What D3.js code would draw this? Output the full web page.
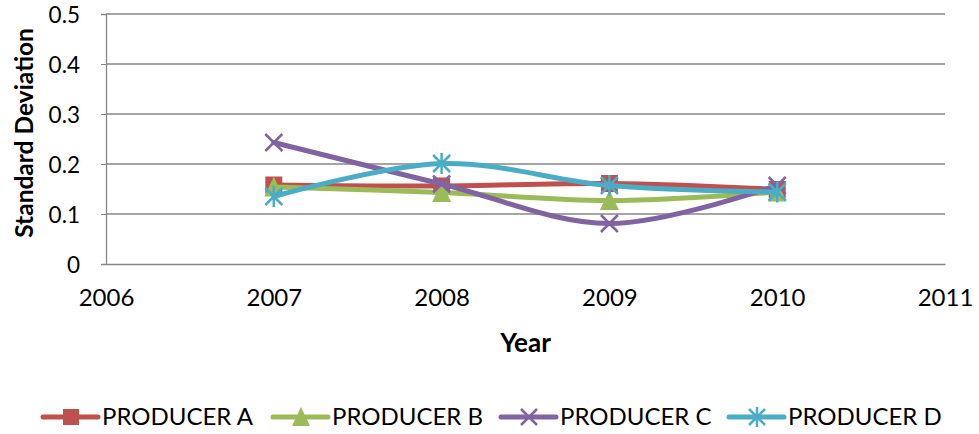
<!DOCTYPE html>
<html>
<head>
<meta charset="utf-8">
<script src="https://cdn.jsdelivr.net/npm/d3@7"></script>
<style>
  body { margin: 0; background: #fff; }
  text { font-family: Lato, "Open Sans", sans-serif; fill: #000; }
</style>
</head>
<body>
<svg width="979" height="434"></svg>
<script>
// data
var years = [2007, 2008, 2009, 2010];
var producerA = [0.158, 0.156, 0.161, 0.149];
var producerB = [0.154, 0.143, 0.127, 0.144];
var producerC = [0.243, 0.160, 0.081, 0.157];
var producerD = [0.135, 0.201, 0.157, 0.144];
var seriesNames = ["PRODUCER A", "PRODUCER B", "PRODUCER C", "PRODUCER D"];
var yTicks = [0, 0.1, 0.2, 0.3, 0.4, 0.5];
var xTicks = [2006, 2007, 2008, 2009, 2010, 2011];

var colors = ["#C0504D", "#9BBB59", "#8064A2", "#4BACC6"];
var shapes = ["square", "triangle", "x", "star"];

var series = [producerA, producerB, producerC, producerD].map(function(vals, i) {
  return {
    name: seriesNames[i], color: colors[i], shape: shapes[i],
    values: vals.map(function(v, j) { return { year: years[j], value: v }; })
  };
});

var svg = d3.select("svg"),
    margin = {top: 14, right: 34, bottom: 170, left: 106},
    width = +svg.attr("width") - margin.left - margin.right,
    height = +svg.attr("height") - margin.top - margin.bottom,
    chart = svg.append("g").attr("transform", "translate(" + margin.left + "," + margin.top + ")");

var x = d3.scaleLinear().domain([2006, 2011]).range([0, width]);
var y = d3.scaleLinear().domain([0, 0.5]).range([height, 0]);

// horizontal gridlines
chart.selectAll(".grid")
  .data(yTicks.slice(1))
  .enter().append("line")
  .attr("x1", 0).attr("x2", width)
  .attr("y1", function(d) { return y(d); })
  .attr("y2", function(d) { return y(d); })
  .attr("stroke", "#868686").attr("stroke-width", 1.3);

// y axis
var yAxis = chart.append("g")
  .call(d3.axisLeft(y).tickValues(yTicks).tickSize(5).tickPadding(21)
    .tickFormat(function(d) { return d === 0 ? "0" : d3.format(".1f")(d); }));
yAxis.select(".domain").attr("stroke", "#868686").attr("stroke-width", 1.3);
yAxis.selectAll(".tick line").attr("stroke", "#868686");
yAxis.selectAll("text").style("font-size", "22.5px").attr("dy", "8.5px").attr("fill", "#000");

// x axis
var xAxis = chart.append("g")
  .attr("transform", "translate(0," + height + ")")
  .call(d3.axisBottom(x).tickValues(xTicks).tickSize(0).tickPadding(25).tickFormat(d3.format("d")));
xAxis.select(".domain").attr("stroke", "#868686").attr("stroke-width", 1.3);
xAxis.selectAll("text").style("font-size", "24px").attr("fill", "#000");

// axis titles
svg.append("text")
  .attr("transform", "translate(33,133) rotate(-90)")
  .attr("text-anchor", "middle")
  .style("font-size", "24.5px").style("font-weight", "bold")
  .text("Standard Deviation");

svg.append("text")
  .attr("x", margin.left + width / 2).attr("y", 352)
  .attr("text-anchor", "middle")
  .style("font-size", "26px").style("font-weight", "bold")
  .text("Year");

var line = d3.line()
  .x(function(d) { return x(d.year); })
  .y(function(d) { return y(d.value); })
  .curve(d3.curveCatmullRom.alpha(0.5));

function drawMarker(g, shape, color, size) {
  var h = size / 2;
  if (shape === "square") {
    g.append("rect").attr("x", -h).attr("y", -h).attr("width", size).attr("height", size).attr("fill", color);
  } else if (shape === "triangle") {
    g.append("path").attr("d", "M0," + (-h - 2) + "L" + (h + 1) + "," + (h + 1) + "L" + (-h - 1) + "," + (h + 1) + "Z").attr("fill", color);
  } else if (shape === "x") {
    g.append("path").attr("d", "M" + -h + "," + -h + "L" + h + "," + h + "M" + h + "," + -h + "L" + -h + "," + h)
      .attr("stroke", color).attr("stroke-width", 2.5);
  } else {
    g.append("path").attr("d", "M" + -h + "," + -h + "L" + h + "," + h + "M" + h + "," + -h + "L" + -h + "," + h + "M0," + (-h - 2) + "L0," + (h + 2))
      .attr("stroke", color).attr("stroke-width", 2.5);
  }
}

var seriesG = chart.selectAll(".series")
  .data(series)
  .enter().append("g").attr("class", "series");

seriesG.append("path")
  .attr("d", function(d) { return line(d.values); })
  .attr("fill", "none")
  .attr("stroke", function(d) { return d.color; })
  .attr("stroke-width", 5)
  .attr("stroke-linecap", "round");

seriesG.each(function(s) {
  d3.select(this).selectAll(".pt")
    .data(s.values)
    .enter().append("g")
    .attr("transform", function(d) { return "translate(" + x(d.year) + "," + y(d.value) + ")"; })
    .each(function() { drawMarker(d3.select(this), s.shape, s.color, 17); });
});

// legend
var legendX = [43, 273, 501, 729];
var legend = svg.selectAll(".legend")
  .data(series)
  .enter().append("g")
  .attr("transform", function(d, i) { return "translate(" + legendX[i] + ",417)"; });

legend.append("line")
  .attr("x1", 0).attr("x2", 55)
  .attr("stroke", function(d) { return d.color; })
  .attr("stroke-width", 5)
  .attr("stroke-linecap", "round");
legend.each(function(s) {
  var g = d3.select(this).append("g").attr("transform", "translate(28,0)");
  drawMarker(g, s.shape, s.color, 16);
});
legend.append("text")
  .attr("x", 59).attr("y", 8)
  .style("font-size", "24px")
  .text(function(d) { return d.name; });
</script>
</body>
</html>
